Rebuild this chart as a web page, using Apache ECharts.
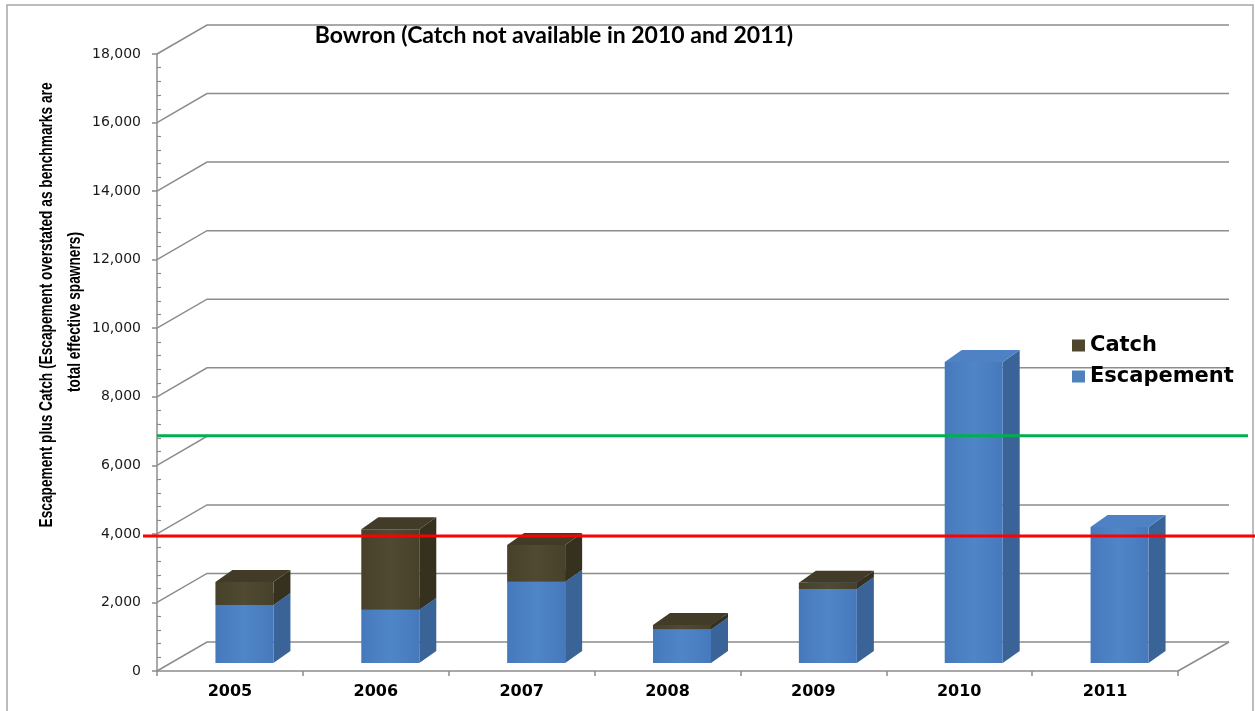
<!DOCTYPE html>
<html>
<head>
<meta charset="utf-8">
<title>Bowron</title>
<script src="https://cdn.jsdelivr.net/npm/echarts@6/dist/echarts.min.js"></script>
<style>
  html, body { margin: 0; padding: 0; background: #ffffff; }
  #chart { width: 1255px; height: 711px; }
</style>
</head>
<body>
<div id="chart"></div>
<script>
// Bowron: escapement and catch by year, with two benchmark lines
const years = ['2005', '2006', '2007', '2008', '2009', '2010', '2011'];
const escapement = [1690, 1550, 2370, 980, 2160, 8780, 3970];
const catchFish = [670, 2350, 1070, 130, 180, null, null];   // no catch data for 2010 and 2011
const benchmarkLower = 3940;
const benchmarkUpper = 6860;
const yTickValues = [0, 2000, 4000, 6000, 8000, 10000, 12000, 14000, 16000, 18000];
const yTitleLines = [
  'Escapement plus Catch (Escapement overstated as benchmarks are',
  'total effective spawners)'
];

// pseudo-3D projection offsets (pixels)
const WALL_DX = 50, WALL_DY = -29;     // depth of the back wall
const FACE_DX = 14.5, FACE_DY = -8;    // bar front face position inside the depth
const SIDE_DX = 17, SIDE_DY = -12;     // bar depth
const FACE_W = 58;

const GRID_COLOR = '#8c8c8c';

const chart = echarts.init(document.getElementById('chart'), null, { renderer: 'canvas' });

function fmt(v) { return String(v).replace(/\B(?=(\d{3})+(?!\d))/g, ','); }

// condensed look for the vertical axis title: squeeze the first line to its length
const Y_TITLE_FONT = 'bold 19px "Liberation Sans", Arial, sans-serif';
const Y_TITLE_LEN = 445;
const measureCtx = document.createElement('canvas').getContext('2d');
measureCtx.font = Y_TITLE_FONT;
const yTitleSqueeze = Y_TITLE_LEN / measureCtx.measureText(yTitleLines[0]).width;

// back wall grid lines with their slanted side-wall connectors
function renderFrame(params, api) {
  const cs = params.coordSys;
  const children = [];
  yTickValues.forEach(function (v) {
    const y = api.coord([0, v])[1];
    children.push({
      type: 'polyline',
      shape: { points: [[cs.x, y], [cs.x + WALL_DX, y + WALL_DY], [cs.x + cs.width + WALL_DX + 1, y + WALL_DY]] },
      style: { stroke: GRID_COLOR, lineWidth: 1.5, fill: null }
    });
  });
  const y0 = api.coord([0, 0])[1];
  children.push({
    type: 'line',
    shape: { x1: cs.x + cs.width, y1: y0, x2: cs.x + cs.width + WALL_DX + 1, y2: y0 + WALL_DY },
    style: { stroke: GRID_COLOR, lineWidth: 1.5 }
  });
  return { type: 'group', children: children };
}

function makeBarRenderer(colors) {
  return function (params, api) {
    const i = api.value(0);
    const base = api.value(1);
    const top = api.value(2);
    if (isNaN(top) || top <= base) return;
    const pb = api.coord([i, base]);
    const pt = api.coord([i, top]);
    const cx = pb[0] + FACE_DX;
    const yb = pb[1] + FACE_DY;
    const yt = pt[1] + FACE_DY;
    const xl = cx - FACE_W / 2, xr = cx + FACE_W / 2;
    return {
      type: 'group',
      children: [
        {
          type: 'polygon',
          shape: { points: [[xr, yb], [xr + SIDE_DX, yb + SIDE_DY], [xr + SIDE_DX, yt + SIDE_DY], [xr, yt]] },
          style: { fill: colors.side }
        },
        {
          type: 'polygon',
          shape: { points: [[xl, yt], [xr, yt], [xr + SIDE_DX, yt + SIDE_DY], [xl + SIDE_DX, yt + SIDE_DY]] },
          style: { fill: colors.top }
        },
        {
          type: 'rect',
          shape: { x: xl, y: yt, width: FACE_W, height: yb - yt },
          style: {
            fill: new echarts.graphic.LinearGradient(0, 0, 1, 0, [
              { offset: 0, color: colors.front[0] },
              { offset: 0.5, color: colors.front[1] },
              { offset: 1, color: colors.front[0] }
            ])
          }
        }
      ]
    };
  };
}

function makeLineRenderer(color, xStart, xEndPad) {
  return function (params, api) {
    const cs = params.coordSys;
    const y = api.coord([0, api.value(0)])[1];
    return {
      type: 'line',
      shape: { x1: xStart, y1: y, x2: cs.x + cs.width + xEndPad, y2: y },
      style: { stroke: color, lineWidth: 3 }
    };
  };
}

const escData = years.map(function (y, i) { return [i, 0, escapement[i]]; });
const catchData = years.map(function (y, i) {
  return catchFish[i] == null ? [i, escapement[i], NaN] : [i, escapement[i], escapement[i] + catchFish[i]];
});

const BLUE = { front: ['#4679bb', '#4f86c8'], side: '#3a6497', top: '#4f82c5' };
const BROWN = { front: ['#47412b', '#514a32'], side: '#35311e', top: '#413b27' };

const option = {
  backgroundColor: '#ffffff',
  animation: false,
  title: {
    text: 'Bowron (Catch not available in 2010 and 2011)',
    left: 549,
    top: 19,
    textAlign: 'center',
    textStyle: { fontFamily: 'Lato', fontWeight: 'bold', fontSize: 23, color: '#000000' }
  },
  legend: {
    data: ['Catch', 'Escapement'],
    orient: 'vertical',
    left: 1067,
    top: 330,
    itemWidth: 13,
    itemHeight: 12,
    itemGap: 10,
    icon: 'rect',
    selectedMode: false,
    textStyle: { fontFamily: 'DejaVu Sans', fontWeight: 'bold', fontSize: 21, lineHeight: 21, color: '#000000' }
  },
  grid: { left: 157, right: 77, top: 54, bottom: 40, containLabel: false },
  xAxis: {
    type: 'category',
    data: years,
    axisLine: { lineStyle: { color: GRID_COLOR, width: 1.5 } },
    axisTick: { show: true, length: 5, lineStyle: { color: GRID_COLOR, width: 1.5 } },
    axisLabel: { fontFamily: 'DejaVu Sans', fontWeight: 'bold', fontSize: 16, color: '#000000', margin: 13 },
    splitLine: { show: false }
  },
  yAxis: [
    {
      type: 'value',
      min: 0,
      max: 18000,
      interval: 2000,
      axisLine: { show: true, lineStyle: { color: GRID_COLOR, width: 1.5 } },
      axisTick: { show: true, length: 5, lineStyle: { color: GRID_COLOR, width: 1.5 } },
      minorTick: { show: false },
      axisLabel: { fontFamily: 'DejaVu Sans', fontSize: 14, color: '#1a1a1a', margin: 16, formatter: fmt },
      splitLine: { show: false }
    },
    {
      type: 'value',
      position: 'left',
      min: 0,
      max: 18000,
      interval: 2000,
      axisLine: { show: false },
      axisTick: { show: false, inside: true },
      minorTick: { show: true, splitNumber: 5, length: 4, lineStyle: { color: GRID_COLOR, width: 1.2 } },
      axisLabel: { show: false },
      splitLine: { show: false }
    }
  ],
  series: [
    {
      type: 'custom',
      name: 'frame',
      silent: true,
      z: 1,
      renderItem: renderFrame,
      data: [[0]]
    },
    {
      type: 'custom',
      name: 'Escapement',
      z: 2,
      itemStyle: { color: '#4f81bd' },
      renderItem: makeBarRenderer(BLUE),
      encode: { x: 0, y: [1, 2] },
      data: escData
    },
    {
      type: 'custom',
      name: 'Catch',
      z: 3,
      itemStyle: { color: '#4f4630' },
      renderItem: makeBarRenderer(BROWN),
      encode: { x: 0, y: [1, 2] },
      data: catchData
    },
    {
      type: 'custom',
      name: 'upper benchmark',
      silent: true,
      z: 4,
      renderItem: makeLineRenderer('#00b050', 157, 70),
      data: [[benchmarkUpper]]
    },
    {
      type: 'custom',
      name: 'lower benchmark',
      silent: true,
      z: 4,
      renderItem: makeLineRenderer('#ff0000', 143, 80),
      data: [[benchmarkLower]]
    }
  ],
  graphic: [
    {
      type: 'rect',
      silent: true,
      z: 0,
      shape: { x: 7, y: 5, width: 1246, height: 730 },
      style: { fill: null, stroke: '#a6a6a6', lineWidth: 1.5 }
    },
    {
      type: 'text',
      silent: true,
      x: 47,
      y: 305,
      rotation: Math.PI / 2,
      scaleX: yTitleSqueeze,
      style: {
        text: yTitleLines[0],
        font: Y_TITLE_FONT,
        fill: '#000000',
        textAlign: 'center',
        textVerticalAlign: 'middle'
      }
    },
    {
      type: 'text',
      silent: true,
      x: 75,
      y: 312,
      rotation: Math.PI / 2,
      scaleX: yTitleSqueeze,
      style: {
        text: yTitleLines[1],
        font: Y_TITLE_FONT,
        fill: '#000000',
        textAlign: 'center',
        textVerticalAlign: 'middle'
      }
    }
  ]
};

chart.setOption(option);
</script>
</body>
</html>
